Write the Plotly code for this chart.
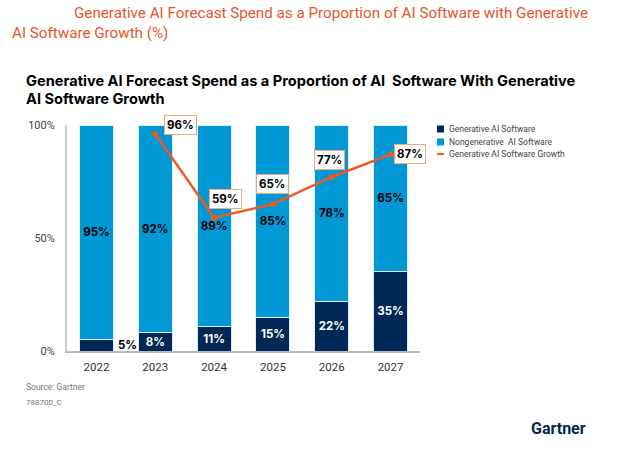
import plotly.graph_objects as go

years = ["2022", "2023", "2024", "2025", "2026", "2027"]
gen_ai = [5, 8, 11, 15, 22, 35]
nongen_ai = [95, 92, 89, 85, 78, 65]
growth_years = ["2023", "2024", "2025", "2026", "2027"]
growth = [96, 59, 65, 77, 87]

W, H = 620, 453
L, R, T, B = 67, 200, 125, 102
PW, PH = W - L - R, H - T - B

def px(x):
    return (x - L) / PW

def py(y):
    return (H - B - y) / PH

NAVY = "#002856"
BLUE = "#0099D6"
ORANGE = "#F05A22"
LABEL_FONT = "Inter"

fig = go.Figure()
fig.add_trace(go.Bar(
    x=years, y=gen_ai, name="Generative AI Software", marker_color=NAVY,
    marker_line=dict(color="#d9eef8", width=1),
    text=["" if i == 0 else f"{v}%" for i, v in enumerate(gen_ai)],
    texttemplate="%{text}", textposition="inside", insidetextanchor="middle",
    textangle=0, constraintext="none",
    textfont=dict(family=LABEL_FONT, size=11.5, color="white", weight="bold"),
    showlegend=False,
))
fig.add_trace(go.Bar(
    x=years, y=nongen_ai, name="Nongenerative  AI Software", marker_color=BLUE,
    marker_line=dict(color="#d9eef8", width=1),
    text=[f"{v}%" for v in nongen_ai],
    texttemplate="%{text}", textposition="inside", insidetextanchor="middle",
    textangle=0, constraintext="none",
    textfont=dict(family=LABEL_FONT, size=11.5, color="black", weight="bold"),
    showlegend=False,
))
fig.add_trace(go.Scatter(
    x=growth_years, y=growth, name="Generative AI Software Growth",
    mode="lines+markers", line=dict(color=ORANGE, width=2.5),
    marker=dict(size=6, color=ORANGE), showlegend=False,
))

ann = []
# growth labels (category axis: annotations take the category index)
shifts = [(25, 9), (11, 19), (0, 20), (-2, 17), (19, 0)]
for yr, v, (dx, dy) in zip(growth_years, growth, shifts):
    ann.append(dict(x=years.index(yr), y=v, xref="x", yref="y", text=f"{v}%", showarrow=False,
                    xshift=dx, yshift=dy, bgcolor="white", bordercolor="#F4A582",
                    borderwidth=1, borderpad=2,
                    font=dict(family=LABEL_FONT, size=11.5, color="black", weight="bold")))
# 2022 gen label outside
ann.append(dict(x=0, y=gen_ai[0] / 2, xref="x", yref="y", text=f"{gen_ai[0]}%",
                showarrow=False, xshift=31,
                font=dict(family=LABEL_FONT, size=11.5, color="black", weight="bold")))
# header titles
ann.append(dict(x=px(72), y=py(13), xref="paper", yref="paper", xanchor="left", yanchor="middle",
                text="Generative AI Forecast Spend as a Proportion of AI Software with Generative",
                showarrow=False, font=dict(family="Roboto", size=15.2, color="#E8542A")))
ann.append(dict(x=px(10), y=py(33), xref="paper", yref="paper", xanchor="left", yanchor="middle",
                text="AI Software Growth (%)",
                showarrow=False, font=dict(family="Roboto", size=15.2, color="#E8542A")))
ann.append(dict(x=px(24), y=py(81), xref="paper", yref="paper", xanchor="left", yanchor="middle",
                text="Generative AI Forecast Spend as a Proportion of AI  Software With Generative",
                showarrow=False, font=dict(family="Inter", size=14.6, color="black", weight="bold")))
ann.append(dict(x=px(24), y=py(99), xref="paper", yref="paper", xanchor="left", yanchor="middle",
                text="AI Software Growth",
                showarrow=False, font=dict(family="Inter", size=14.6, color="black", weight="bold")))
# source
ann.append(dict(x=px(24), y=py(387), xref="paper", yref="paper", xanchor="left", yanchor="middle",
                text="Source: Gartner", showarrow=False,
                font=dict(family="Roboto", size=8.5, color="#777")))
ann.append(dict(x=px(24), y=py(402), xref="paper", yref="paper", xanchor="left", yanchor="middle",
                text="788700_C", showarrow=False,
                font=dict(family="Roboto", size=8, color="#777")))
ann.append(dict(x=px(529), y=py(428), xref="paper", yref="paper", xanchor="left", yanchor="middle",
                text="Gartner", showarrow=False,
                font=dict(family="Roboto", size=16, color=NAVY, weight="bold")))

# manual legend
shapes = []
leg = [("Generative AI Software", NAVY, "sq", 129), ("Nongenerative  AI Software", BLUE, "sq", 142),
       ("Generative AI Software Growth", ORANGE, "ln", 154)]
for name, col, kind, yy in leg:
    if kind == "sq":
        shapes.append(dict(type="rect", xref="paper", yref="paper", x0=px(437), x1=px(444),
                           y0=py(yy + 3.5), y1=py(yy - 3.5), fillcolor=col, line=dict(width=0)))
    else:
        shapes.append(dict(type="line", xref="paper", yref="paper", x0=px(437), x1=px(444),
                           y0=py(yy), y1=py(yy), line=dict(color=col, width=2)))
    ann.append(dict(x=px(447), y=py(yy), xref="paper", yref="paper", xanchor="left", yanchor="middle",
                    text=name, showarrow=False, font=dict(family="Roboto", size=8.5, color="#444")))

fig.update_layout(
    width=W, height=H, barmode="stack", bargap=0.42,
    margin=dict(l=L, r=R, t=T, b=B),
    plot_bgcolor="white", paper_bgcolor="white",
    annotations=ann, shapes=shapes,
)
fig.update_yaxes(range=[0, 100], tickvals=[0, 50, 100], ticktext=["0%", "50%", "100%"],
                 showgrid=False, zeroline=False, showline=True, linecolor="#CCCCCC", linewidth=2,
                 ticks="", ticklabelstandoff=8,
                 tickfont=dict(family="Roboto", size=11, color="#444"))
fig.update_xaxes(type="category", range=[-0.5, len(years) - 0.5],
                 showgrid=False, showline=True, linecolor="#BBBBBB", linewidth=1.5,
                 ticks="", ticklabelstandoff=4,
                 tickfont=dict(family="Roboto", size=11.5, color="#333"))

fig.write_html("out.html")
